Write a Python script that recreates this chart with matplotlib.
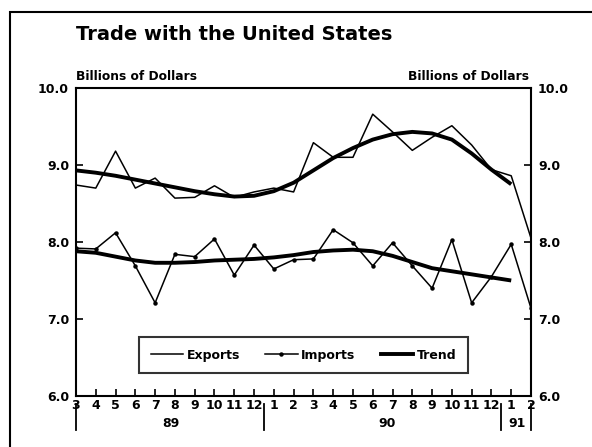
import matplotlib.pyplot as plt
import matplotlib.transforms as mtransforms
from matplotlib.lines import Line2D
from matplotlib.patches import Rectangle

meses = ['3', '4', '5', '6', '7', '8', '9', '10', '11', '12',
         '1', '2', '3', '4', '5', '6', '7', '8', '9', '10', '11', '12',
         '1', '2']
anos = ['89', '90', '91']

exportacoes = [8.74, 8.70, 9.18, 8.70, 8.83, 8.57, 8.58, 8.73, 8.58, 8.65,
               8.70, 8.65, 9.29, 9.10, 9.10, 9.66, 9.43, 9.19, 9.36, 9.51,
               9.26, 8.94, 8.86, 8.05]
importacoes = [7.92, 7.91, 8.12, 7.69, 7.21, 7.84, 7.81, 8.04, 7.57, 7.96,
               7.65, 7.77, 7.78, 8.16, 7.99, 7.69, 7.99, 7.69, 7.40, 8.03,
               7.21, 7.55, 7.97, 7.14]
tendencia_exp = [8.93, 8.90, 8.86, 8.81, 8.76, 8.71, 8.66, 8.62, 8.59, 8.60,
                 8.66, 8.77, 8.93, 9.09, 9.22, 9.33, 9.40, 9.43, 9.41, 9.33,
                 9.15, 8.94, 8.75]
tendencia_imp = [7.88, 7.86, 7.81, 7.76, 7.73, 7.73, 7.74, 7.76, 7.77, 7.78,
                 7.80, 7.83, 7.87, 7.89, 7.90, 7.88, 7.82, 7.74, 7.66, 7.62,
                 7.58, 7.54, 7.50]

plt.rcParams['font.family'] = ['DejaVu Sans']
plt.rcParams['font.weight'] = 'bold'

fig = plt.figure(figsize=(5.92, 4.47), dpi=100)
fig.patches.append(Rectangle((10 / 592, -0.1), 1.2, 1 - 12 / 447 + 0.1,
                             transform=fig.transFigure, fill=False,
                             edgecolor='black', linewidth=1.5))

ax = fig.add_axes([76 / 592, 1 - 396 / 447, 455 / 592, 308 / 447])
x = list(range(len(meses)))

ax.plot(x, exportacoes, color='black', linewidth=1.1)
ax.plot(x, importacoes, color='black', linewidth=1.1, marker='o', markersize=2.2)
ax.plot(x[:len(tendencia_exp)], tendencia_exp, color='black', linewidth=2.8,
        solid_capstyle='butt')
ax.plot(x[:len(tendencia_imp)], tendencia_imp, color='black', linewidth=2.8,
        solid_capstyle='butt')

ax.set_xlim(0, len(meses) - 1)
ax.set_ylim(6.0, 10.0)
ax.set_yticks([6, 7, 8, 9, 10])
ax.set_yticklabels(['6.0', '7.0', '8.0', '9.0', '10.0'])
ax.set_xticks(x)
ax.set_xticklabels(meses)
ax.tick_params(axis='both', direction='in', length=5, width=1.2, labelsize=9,
               right=True, labelright=True)
ax.tick_params(axis='y', pad=5)
ax.tick_params(axis='x', pad=2.5)
for s in ax.spines.values():
    s.set_linewidth(1.5)

# separadores de ano e rótulos
trans = mtransforms.blended_transform_factory(ax.transData, ax.transAxes)
for xs in [0, 9.5, 21.5, 23]:
    ax.plot([xs, xs], [-0.025, -0.11], transform=trans, color='black',
            linewidth=1.3, clip_on=False)
for xp, ano in zip([4.8, 15.7, 22.3], anos):
    ax.text(xp, -0.088, ano, transform=trans, ha='center', va='center',
            fontsize=9, fontweight='bold')

fig.text(76 / 592, 1 - 34 / 447, 'Trade with the United States',
         fontsize=14, fontweight='bold', ha='left', va='center')
fig.text(76 / 592, 1 - 76 / 447, 'Billions of Dollars', fontsize=8.8,
         fontweight='bold', ha='left', va='center')
fig.text(529 / 592, 1 - 76 / 447, 'Billions of Dollars', fontsize=8.8,
         fontweight='bold', ha='right', va='center')

handles = [Line2D([], [], color='black', linewidth=1.1),
           Line2D([], [], color='black', linewidth=1.1, marker='o', markersize=2.2),
           Line2D([], [], color='black', linewidth=2.8)]
leg = ax.legend(handles, ['Exports', 'Imports', 'Trend'], ncol=3,
                loc='center', bbox_to_anchor=(0.5, 0.133), fontsize=9,
                frameon=True, fancybox=False, edgecolor='black',
                handlelength=2.6, columnspacing=2.0, borderpad=0.9,
                handletextpad=0.3)
leg.get_frame().set_linewidth(1.5)

fig.savefig('out.png', dpi=100)
